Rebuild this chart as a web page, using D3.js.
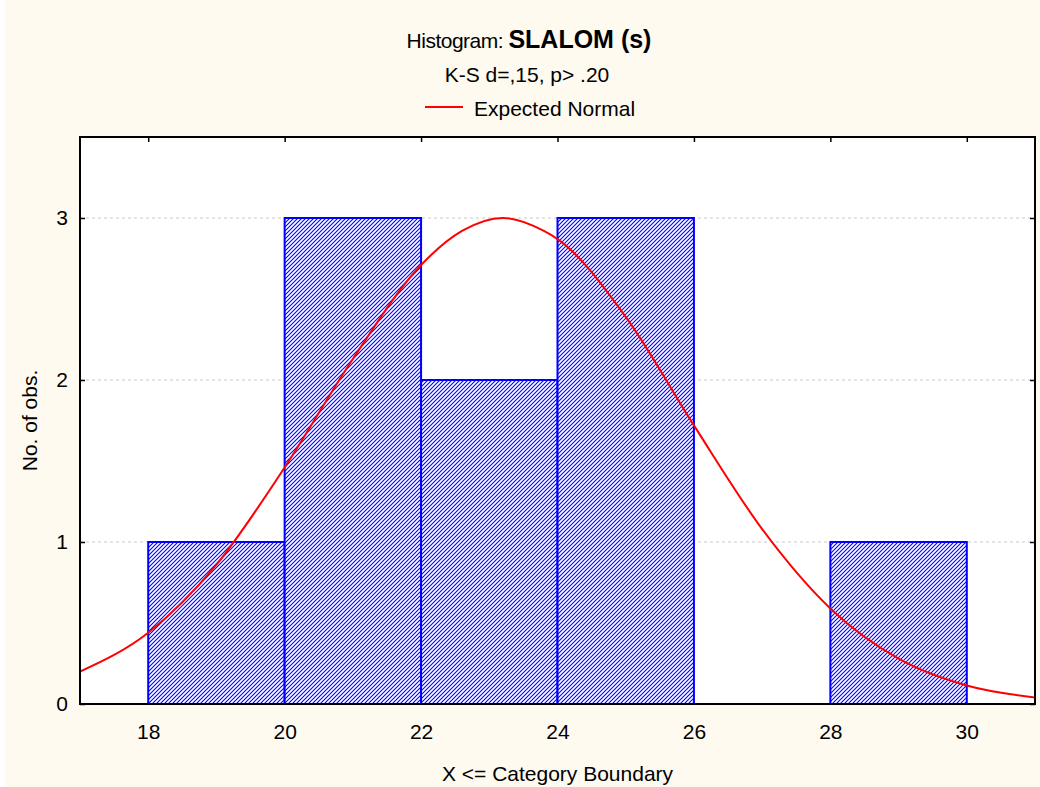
<!DOCTYPE html>
<html lang="en">
  <head>
    <meta charset="UTF-8" />
    <title>Histogram: SLALOM (s)</title>
    <script src="https://d3js.org/d3.v7.min.js"></script>
    <style>
      body {
        margin: 0;
        background-color: #ffffff;
      }
      svg {
        display: block;
        font-family: Arial, "Liberation Sans", sans-serif;
      }
    </style>
  </head>
  <body>
    <svg width="1040" height="787"></svg>

    <script>
      // histogram bins (upper boundary) and counts
      const binStarts = [18, 20, 22, 24, 26, 28];
      const binEnds = [20, 22, 24, 26, 28, 30];
      const counts = [1, 3, 2, 3, 0, 1];

      // expected normal curve
      const normalX = [17, 18, 19, 20, 21, 22, 22.6, 23.2, 23.8, 24, 25, 26, 27, 28, 29, 30, 31];
      const normalY = [0.2, 0.44, 0.86, 1.46, 2.13, 2.71, 2.92, 3.0, 2.92, 2.87, 2.39, 1.72, 1.08, 0.59, 0.28, 0.114, 0.04];

      const xTicks = [18, 20, 22, 24, 26, 28, 30];
      const yTicks = [0, 1, 2, 3];

      const width = 1040;
      const height = 787;
      const plotLeft = 80, plotRight = 1035, plotTop = 137, plotBottom = 704;
      const fontSize = 21;

      const svg = d3.select("svg");

      svg.append("rect")
        .attr("x", 5).attr("y", 0)
        .attr("width", width - 5).attr("height", height)
        .attr("fill", "#fefaf0");

      // hatch pattern for bars
      const defs = svg.append("defs");
      const pat = defs.append("pattern")
        .attr("id", "hatch")
        .attr("patternUnits", "userSpaceOnUse")
        .attr("width", 4).attr("height", 4);
      pat.append("rect").attr("width", 4).attr("height", 4).attr("fill", "#ffffff");
      pat.append("path")
        .attr("d", "M-1,5 L5,-1 M-1,1 L1,-1 M3,5 L5,3")
        .attr("stroke", "#0000ff")
        .attr("stroke-width", 1.1)
        .attr("fill", "none");

      defs.append("clipPath").attr("id", "plotClip")
        .append("rect")
        .attr("x", plotLeft).attr("y", plotTop)
        .attr("width", plotRight - plotLeft).attr("height", plotBottom - plotTop);

      const x = d3.scaleLinear().domain([17, 31]).range([plotLeft, plotRight]);
      const y = d3.scaleLinear().domain([0, 3.5]).range([plotBottom, plotTop]);

      // plot background
      svg.append("rect")
        .attr("x", plotLeft).attr("y", plotTop)
        .attr("width", plotRight - plotLeft).attr("height", plotBottom - plotTop)
        .attr("fill", "#ffffff");

      // horizontal grid lines
      svg.append("g")
        .selectAll("line")
        .data(yTicks.filter((d) => d > 0))
        .join("line")
        .attr("x1", plotLeft).attr("x2", plotRight)
        .attr("y1", (d) => y(d)).attr("y2", (d) => y(d))
        .attr("stroke", "#c8c8c8")
        .attr("stroke-width", 1)
        .attr("stroke-dasharray", "3,3");

      // bars
      const bars = binStarts.map((s, i) => ({ x0: s, x1: binEnds[i], n: counts[i] }))
        .filter((d) => d.n > 0);

      svg.append("g")
        .selectAll("rect")
        .data(bars)
        .join("rect")
        .attr("x", (d) => x(d.x0))
        .attr("y", (d) => y(d.n))
        .attr("width", (d) => x(d.x1) - x(d.x0))
        .attr("height", (d) => y(0) - y(d.n))
        .attr("fill", "url(#hatch)")
        .attr("stroke", "#0000ff")
        .attr("stroke-width", 2);

      // expected normal
      const line = d3.line()
        .x((d, i) => x(normalX[i]))
        .y((d) => y(d))
        .curve(d3.curveMonotoneX);

      svg.append("path")
        .datum(normalY)
        .attr("clip-path", "url(#plotClip)")
        .attr("d", line)
        .attr("fill", "none")
        .attr("stroke", "#ff0000")
        .attr("stroke-width", 2);

      // frame
      svg.append("rect")
        .attr("x", plotLeft).attr("y", plotTop)
        .attr("width", plotRight - plotLeft).attr("height", plotBottom - plotTop)
        .attr("fill", "none")
        .attr("stroke", "#000000")
        .attr("stroke-width", 2);

      // axes with inward ticks
      svg.append("g")
        .attr("transform", `translate(0,${plotBottom})`)
        .call(d3.axisBottom(x).tickValues(xTicks).tickSize(0).tickPadding(20))
        .call((g) => g.select(".domain").remove())
        .selectAll("text")
        .attr("font-size", fontSize)
        .attr("fill", "#000");

      svg.append("g")
        .attr("transform", `translate(0,${plotTop})`)
        .call(d3.axisBottom(x).tickValues(xTicks).tickSize(5).tickFormat(""))
        .call((g) => g.select(".domain").remove())
        .selectAll("line").attr("stroke", "#000").attr("stroke-width", 1.5);

      svg.append("g")
        .attr("transform", `translate(${plotLeft},0)`)
        .call(d3.axisLeft(y).tickValues(yTicks).tickFormat(d3.format("d")).tickSize(0).tickPadding(12))
        .call((g) => g.select(".domain").remove())
        .selectAll("text")
        .attr("font-size", fontSize)
        .attr("fill", "#000");

      svg.append("g")
        .attr("transform", `translate(${plotLeft},0)`)
        .call(d3.axisRight(y).tickValues(yTicks).tickSize(5).tickFormat(""))
        .call((g) => g.select(".domain").remove())
        .selectAll("line").attr("stroke", "#000").attr("stroke-width", 1.5);

      svg.append("g")
        .attr("transform", `translate(${plotRight},0)`)
        .call(d3.axisLeft(y).tickValues(yTicks).tickSize(5).tickFormat(""))
        .call((g) => g.select(".domain").remove())
        .selectAll("line").attr("stroke", "#000").attr("stroke-width", 1.5);

      // titles
      const title = svg.append("text")
        .attr("x", 529).attr("y", 48)
        .attr("text-anchor", "middle")
        .attr("fill", "#000");
      title.append("tspan").attr("font-size", fontSize).attr("letter-spacing", -0.5).text("Histogram: ");
      title.append("tspan").attr("font-size", 25).attr("font-weight", "bold").text("SLALOM (s)");

      svg.append("text")
        .attr("x", 527).attr("y", 82)
        .attr("text-anchor", "middle")
        .attr("font-size", fontSize)
        .text("K-S d=,15, p> .20");

      // legend
      svg.append("line")
        .attr("x1", 425).attr("x2", 463)
        .attr("y1", 107).attr("y2", 107)
        .attr("stroke", "#ff0000")
        .attr("stroke-width", 2);
      svg.append("text")
        .attr("x", 474).attr("y", 116)
        .attr("font-size", fontSize)
        .text("Expected Normal");

      // axis labels
      svg.append("text")
        .attr("x", (plotLeft + plotRight) / 2).attr("y", 781)
        .attr("text-anchor", "middle")
        .attr("font-size", fontSize)
        .text("X <= Category Boundary");

      svg.append("text")
        .attr("transform", `translate(37,${(plotTop + plotBottom) / 2}) rotate(-90)`)
        .attr("text-anchor", "middle")
        .attr("font-size", fontSize)
        .text("No. of obs.");
    </script>
  </body>
</html>
